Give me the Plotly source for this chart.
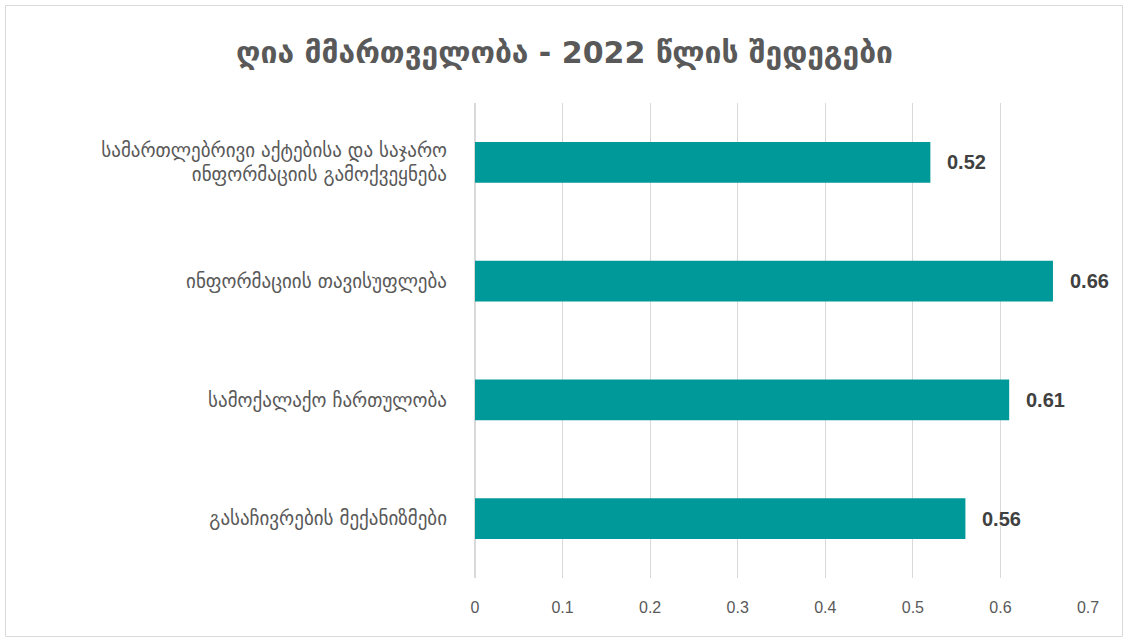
import plotly.graph_objects as go

categories = [
    "სამართლებრივი აქტებისა და საჯარო<br>ინფორმაციის გამოქვეყნება",
    "ინფორმაციის თავისუფლება",
    "სამოქალაქო ჩართულობა",
    "გასაჩივრების მექანიზმები",
]
values = [0.52, 0.66, 0.61, 0.56]
title = "ღია მმართველობა - 2022 წლის შედეგები"
xticks = [0, 0.1, 0.2, 0.3, 0.4, 0.5, 0.6, 0.7]

gray = "#595959"
geo_font = "DejaVu Sans, sans-serif"
num_font = "Liberation Sans, Arial, sans-serif"

fig = go.Figure(go.Bar(
    y=categories, x=values, orientation="h",
    marker=dict(color="#009999", line=dict(width=0)),
    width=0.345,
    hoverinfo="x+y",
))

for c, v in zip(categories, values):
    fig.add_annotation(x=v, y=c, text=f"{v:.2f}", showarrow=False,
                       xanchor="left", yanchor="middle", xshift=15,
                       font=dict(family=num_font, size=20, color="#404040", weight="bold"))

fig.update_layout(
    width=1129, height=639,
    paper_bgcolor="white", plot_bgcolor="white",
    margin=dict(l=475, r=41, t=103, b=61),
    title=dict(text=title, x=0.5, xref="container", y=1 - 52 / 639, yref="container",
               yanchor="middle", xanchor="center",
               font=dict(family=geo_font, size=30, color=gray, weight="bold")),
    showlegend=False,
    xaxis=dict(range=[0, 0.7], tickvals=xticks, ticktext=[f"{t:g}" for t in xticks],
               showgrid=True, gridcolor="#d9d9d9", gridwidth=1, zeroline=True,
               zerolinecolor="#d9d9d9", showline=False,
               tickfont=dict(family=num_font, size=16, color=gray),
               ticks="", ticklabelstandoff=18),
    yaxis=dict(autorange="reversed", showgrid=False, zeroline=False, showline=False, ticks="",
               tickfont=dict(family=geo_font, size=19, color=gray),
               ticklabelstandoff=27, automargin=False),
)

fig.add_shape(type="rect", xref="paper", yref="paper",
              x0=(5.5 - 475) / 613, x1=(1122.5 - 475) / 613,
              y0=(578 - 636.5) / 475, y1=(578 - 5.5) / 475,
              line=dict(color="#d9d9d9", width=1), fillcolor="rgba(0,0,0,0)", layer="below")

fig.write_html("out.html", config={"displayModeBar": False},
               post_script="document.body.style.margin='0';")
